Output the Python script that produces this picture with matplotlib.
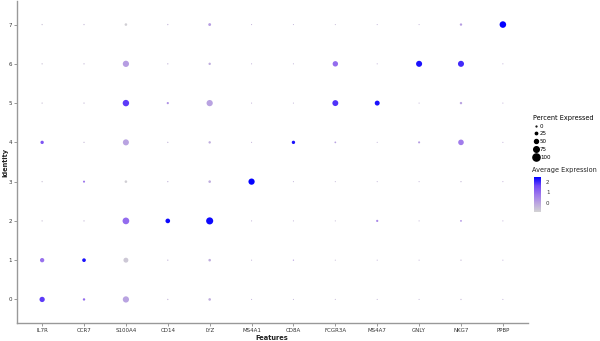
import numpy as np
import matplotlib.pyplot as plt
from matplotlib.colors import LinearSegmentedColormap, Normalize
from matplotlib.lines import Line2D

# features along x, identities 0..7 along y
features = ["IL7R", "CCR7", "S100A4", "CD14", "LYZ", "MS4A1",
            "CD8A", "FCGR3A", "MS4A7", "GNLY", "NKG7", "PPBP"]
identities = [0, 1, 2, 3, 4, 5, 6, 7]

# percent expressed, one list per feature (identity 0..7)
pct_il7r = [70, 55, 8, 8, 40, 8, 8, 8]
pct_ccr7 = [25, 45, 8, 20, 8, 8, 8, 8]
pct_s100a4 = [85, 65, 92, 28, 82, 88, 85, 28]
pct_cd14 = [8, 8, 60, 8, 8, 22, 8, 8]
pct_lyz = [28, 28, 98, 28, 25, 85, 25, 32]
pct_ms4a1 = [5, 5, 5, 85, 5, 5, 5, 5]
pct_cd8a = [5, 8, 5, 5, 40, 5, 5, 5]
pct_fcgr3a = [5, 5, 5, 5, 15, 80, 72, 5]
pct_ms4a7 = [5, 5, 22, 5, 5, 65, 5, 5]
pct_gnly = [5, 5, 5, 5, 20, 5, 82, 5]
pct_nkg7 = [8, 8, 15, 8, 75, 25, 82, 25]
pct_ppbp = [5, 5, 5, 5, 5, 5, 5, 90]

# scaled average expression
avg_il7r = [1.8, 0.9, -0.6, -0.6, 1.4, -0.6, -0.6, -0.6]
avg_ccr7 = [1.0, 2.3, -0.5, 0.8, -0.5, -0.5, -0.5, -0.5]
avg_s100a4 = [0.0, -0.7, 1.0, -0.8, 0.0, 1.8, 0.1, -0.8]
avg_cd14 = [-0.4, -0.4, 2.4, -0.4, -0.4, 0.3, -0.4, -0.4]
avg_lyz = [-0.2, -0.2, 2.4, -0.2, -0.2, 0.0, -0.2, 0.1]
avg_ms4a1 = [-0.35, -0.35, -0.35, 2.47, -0.35, -0.35, -0.35, -0.35]
avg_cd8a = [-0.4, 0.0, -0.4, -0.4, 2.3, -0.4, -0.4, -0.4]
avg_fcgr3a = [-0.5, -0.5, -0.5, -0.5, 0.0, 1.9, 1.0, -0.5]
avg_ms4a7 = [-0.4, -0.4, 0.5, -0.4, -0.4, 2.3, -0.4, -0.4]
avg_gnly = [-0.4, -0.4, -0.4, -0.4, 0.1, -0.4, 2.3, -0.4]
avg_nkg7 = [-0.5, -0.5, 0.3, -0.5, 0.7, 0.0, 2.0, 0.1]
avg_ppbp = [-0.35, -0.35, -0.35, -0.35, -0.35, -0.35, -0.35, 2.47]

pct_list = [pct_il7r, pct_ccr7, pct_s100a4, pct_cd14, pct_lyz, pct_ms4a1,
            pct_cd8a, pct_fcgr3a, pct_ms4a7, pct_gnly, pct_nkg7, pct_ppbp]
avg_list = [avg_il7r, avg_ccr7, avg_s100a4, avg_cd14, avg_lyz, avg_ms4a1,
            avg_cd8a, avg_fcgr3a, avg_ms4a7, avg_gnly, avg_nkg7, avg_ppbp]

legend_pct = [0, 25, 50, 75, 100]
color_ticks = [0, 1, 2]

# lightgrey -> blue, lab-like interpolation like ggplot
cmap = LinearSegmentedColormap.from_list(
    "grey_blue", ["#D3D3D3", "#BBA5E0", "#9D77EC", "#7248F6", "#0000FF"])
norm = Normalize(vmin=-0.9, vmax=2.5)


def pct_to_s(p):
    # diameter in px -> area in pt^2 (dpi 100)
    d_px = 0.8 + 6.4 * np.asarray(p) / 100.0
    return (d_px * 0.72) ** 2


fig = plt.figure(figsize=(6.0, 3.41), dpi=100)
ax = fig.add_axes([17 / 600, 1 - 323 / 341, (528 - 17) / 600, 322 / 341])

for i, feat in enumerate(features):
    x = np.full(len(identities), i)
    ax.scatter(x, identities, s=pct_to_s(pct_list[i]), c=avg_list[i],
               cmap=cmap, norm=norm, linewidths=0)

ax.set_xlim(-0.6, len(features) - 0.4)
ax.set_ylim(-0.6, len(identities) - 0.4)
ax.set_xticks(range(len(features)))
ax.set_xticklabels(features)
ax.set_yticks(identities)
ax.tick_params(labelsize=4.0, colors="#333333", length=2, width=0.6, pad=1.5)
ax.tick_params(axis="both", color="#888888")
for side in ["top", "right"]:
    ax.spines[side].set_visible(False)
for side in ["left", "bottom"]:
    ax.spines[side].set_color("#999999")
    ax.spines[side].set_linewidth(1.0)

fig.text(272 / 600, 1 - 337.5 / 341, "Features", ha="center", va="center",
         fontsize=4.8, fontweight="bold", color="#222222")
fig.text(5 / 600, 1 - 162 / 341, "Identity", ha="center", va="center",
         rotation=90, fontsize=4.8, fontweight="bold", color="#222222")

# size legend
handles = [Line2D([], [], linestyle="none", marker="o", color="black",
                  markersize=(0.8 + 6.4 * p / 100.0) * 0.72) for p in legend_pct]
leg = fig.legend(handles, [str(p) for p in legend_pct], title="Percent Expressed",
                 loc="upper left", bbox_to_anchor=(530 / 600, 1 - 112 / 341),
                 frameon=False, fontsize=4.0, title_fontsize=4.7,
                 labelspacing=0.5, handletextpad=0.3, handlelength=1.0,
                 borderpad=0, alignment="left")

# colour bar
fig.text(532 / 600, 1 - 170 / 341, "Average Expression", ha="left", va="center",
         fontsize=4.7, color="#222222")
cax = fig.add_axes([534 / 600, 1 - 212 / 341, 7 / 600, 35 / 341])
sm = plt.cm.ScalarMappable(cmap=cmap, norm=norm)
cb = fig.colorbar(sm, cax=cax, ticks=color_ticks)
cb.outline.set_visible(False)
cb.ax.tick_params(labelsize=4.0, length=1.5, width=0.5, color="white",
                  colors="#333333", pad=2)

fig.savefig("out.png", dpi=100)
